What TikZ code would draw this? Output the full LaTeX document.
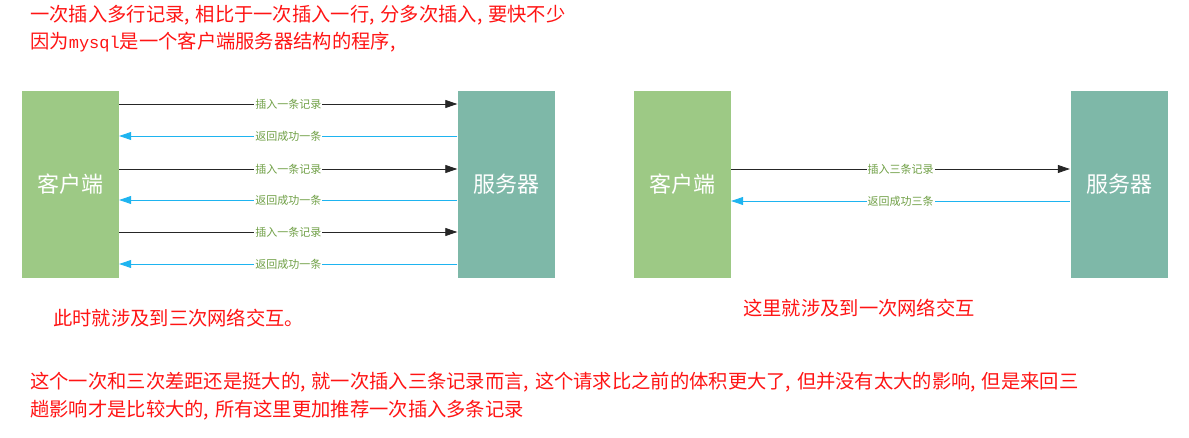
\documentclass[tikz,border=0pt]{standalone}
\usepackage{fontspec}
\setmainfont{Noto Sans CJK SC}
\newfontfamily\monofont{Liberation Mono}
\usetikzlibrary{arrows.meta}
\definecolor{clientgreen}{RGB}{157,201,133}
\definecolor{servergreen}{RGB}{126,184,168}
\definecolor{replyblue}{RGB}{30,180,240}
\definecolor{labelgreen}{RGB}{112,160,70}
\definecolor{notered}{RGB}{255,20,20}
\newcommand{\cma}{,\kern0.3em}
\tikzset{
  box/.style={fill=#1, draw=white, minimum width=98pt, minimum height=188pt,
    inner sep=0pt, text=white, font=\fontsize{22}{24}\selectfont},
  req/.style={->, draw=black!85, line width=0.8pt},
  ack/.style={->, draw=replyblue, line width=0.8pt},
  lab/.style={midway, fill=white, inner sep=1pt, text=labelgreen,
    font=\fontsize{11}{12}\selectfont},
  note/.style={anchor=west, inner sep=0pt, text=notered,
    font=\fontsize{19.3}{21}\selectfont},
}
\begin{document}
\begin{tikzpicture}[x=1pt, y=-1pt, >={Stealth[length=12pt,width=8pt,inset=0pt]}]
    \useasboundingbox (0,0) rectangle (1189,438);

    % notes on top
    \node[note] (title1) at (30,15) {一次插入多行记录\cma 相比于一次插入一行\cma 分多次插入\cma 要快不少};
    \node[note] (title2) at (30,42) {因为{\monofont\fontsize{17}{18}\selectfont mysql}是一个客户端服务器结构的程序\cma};

    % three round trips
    \node[box=clientgreen] (cliA) at (70,184) {客户端};
    \node[box=servergreen] (srvA) at (506.5,184) {服务器};

    \draw[req] (cliA.east |- 0,104) -- (srvA.west |- 0,104) node[lab] {插入一条记录};
    \draw[ack] (srvA.west |- 0,136) -- (cliA.east |- 0,136) node[lab] {返回成功一条};
    \draw[req] (cliA.east |- 0,169) -- (srvA.west |- 0,169) node[lab] {插入一条记录};
    \draw[ack] (srvA.west |- 0,200) -- (cliA.east |- 0,200) node[lab] {返回成功一条};
    \draw[req] (cliA.east |- 0,232) -- (srvA.west |- 0,232) node[lab] {插入一条记录};
    \draw[ack] (srvA.west |- 0,264) -- (cliA.east |- 0,264) node[lab] {返回成功一条};

    \node[note] (sumA) at (53,318) {此时就涉及到三次网络交互。};

    % one round trip
    \node[box=clientgreen] (cliB) at (682,184) {客户端};
    \node[box=servergreen] (srvB) at (1119,184) {服务器};

    \draw[req] (cliB.east |- 0,169) -- (srvB.west |- 0,169) node[lab] {插入三条记录};
    \draw[ack] (srvB.west |- 0,201) -- (cliB.east |- 0,201) node[lab] {返回成功三条};

    \node[note] (sumB) at (743,308) {这里就涉及到一次网络交互};

    % conclusion
    \node[note] (end1) at (30,382) {这个一次和三次差距还是挺大的\cma 就一次插入三条记录而言\cma 这个请求比之前的体积更大了\cma 但并没有太大的影响\cma 但是来回三};
    \node[note] (end2) at (30,410) {趟影响才是比较大的\cma 所有这里更加推荐一次插入多条记录};
\end{tikzpicture}
\end{document}
